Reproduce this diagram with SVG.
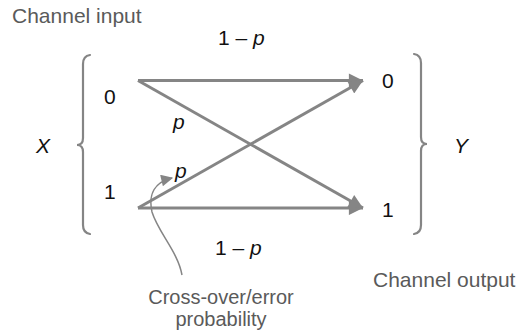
<svg xmlns="http://www.w3.org/2000/svg" width="526" height="334" viewBox="0 0 526 334">
<defs>
<marker id="ah" viewBox="0 0 10 10" refX="10" refY="5" markerWidth="6" markerHeight="4.7" markerUnits="strokeWidth" orient="auto">
<path d="M0,0 L10,5 L0,10 Z" fill="#858585"/>
</marker>
<marker id="ah2" viewBox="0 0 10 10" refX="9" refY="5" markerWidth="10" markerHeight="8" markerUnits="strokeWidth" orient="auto">
<path d="M0,0 L10,5 L0,10 Z" fill="#858585"/>
</marker>
</defs>
<style>
.t{font-family:"Liberation Sans",Arial,sans-serif;font-size:21px;fill:#111}
.g{font-family:"Liberation Sans",Arial,sans-serif;font-size:21px;fill:#5a5a5a}
.n{font-family:"Liberation Sans",Arial,sans-serif;font-size:20px;fill:#5a5a5a}
.i{font-style:italic}
.br{fill:none;stroke:#858585;stroke-width:2.2;stroke-linecap:round}
.ln{fill:none;stroke:#858585;stroke-width:3}
</style>
<rect width="526" height="334" fill="#fff"/>
<g id="channel-input"><text class="g" x="12" y="23">Channel input</text></g>
<g id="input-X">
<path class="br" d="M90,55 Q83,56 83,64 L83,138 Q83,145 77,145 Q83,145 83,152 L83,225 Q83,233 90,234"/>
<text class="t i" x="36" y="153">X</text>
<text class="t" x="104" y="104">0</text>
<text class="t" x="104" y="199">1</text>
</g>
<g id="output-Y">
<path class="br" d="M414,54 Q421,55 421,63 L421,137 Q421,144 427,144 Q421,144 421,151 L421,225 Q421,233 414,234"/>
<text class="t i" x="454" y="153">Y</text>
<text class="t" x="382" y="88">0</text>
<text class="t" x="382" y="217">1</text>
</g>
<g id="connectors">
<line class="ln" x1="138" y1="80.5" x2="363" y2="80.5" marker-end="url(#ah)"/>
<line class="ln" x1="138" y1="208" x2="363" y2="208" marker-end="url(#ah)"/>
<line class="ln" x1="138" y1="80.5" x2="363" y2="208" marker-end="url(#ah)"/>
<line class="ln" x1="138" y1="208" x2="363" y2="80.5" marker-end="url(#ah)"/>
<path d="M182,275 C178,252 158,232 152,212 C148,194 155,182 172,178" fill="none" stroke="#858585" stroke-width="1.5" marker-end="url(#ah2)"/>
</g>
<g id="labels">
<text class="t" x="218" y="45">1 – <tspan class="i">p</tspan></text>
<text class="t" x="215" y="255">1 – <tspan class="i">p</tspan></text>
<text class="t i" x="173" y="129">p</text>
<text class="t i" x="175" y="178">p</text>
</g>
<g id="crossover-note">
<text class="n" text-anchor="middle" x="221" y="304">Cross-over/error</text>
<text class="n" text-anchor="middle" x="221" y="326">probability</text>
</g>
<g id="channel-output"><text class="g" x="373" y="287">Channel output</text></g>
</svg>
